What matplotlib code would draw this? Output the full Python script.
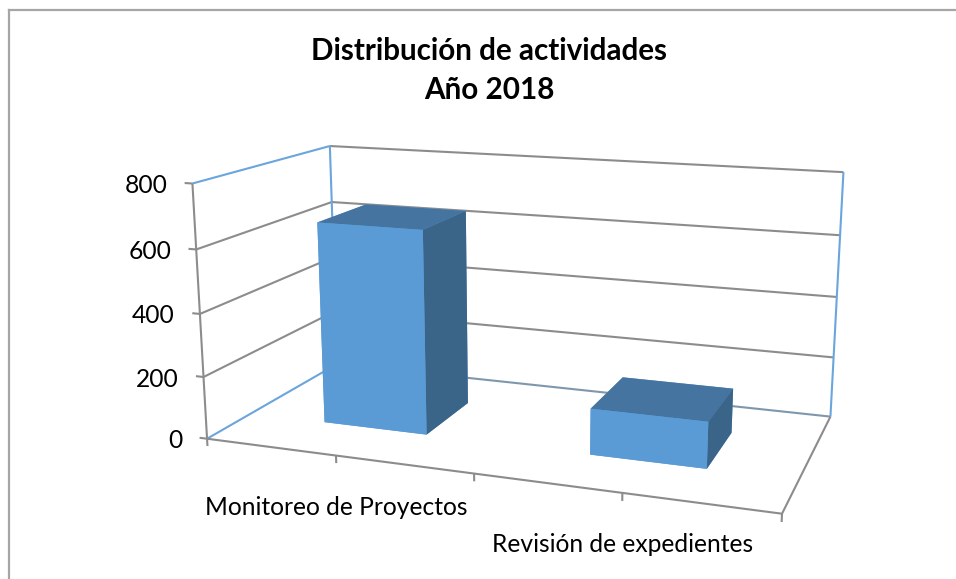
import numpy as np
import matplotlib
matplotlib.use("Agg")
import matplotlib.pyplot as plt
from matplotlib.lines import Line2D
from mpl_toolkits.mplot3d import proj3d

categories = ["Monitoreo de Proyectos", "Revisión de expedientes"]
values = [652, 145]
yticks = [0, 200, 400, 600, 800]

W, H = 956, 579
GRAY = "#8c8c8c"
BLUE = "#6aa5dc"
FRONT, TOP, SIDE = "#5b9bd5", "#4674a0", "#3a6488"

plt.rcParams["font.family"] = ["Lato", "DejaVu Sans"]

fig = plt.figure(figsize=(W / 100, H / 100), dpi=100)

# outer chart frame, cropped at the right and bottom
fig.add_artist(Line2D([9 / W, 9 / W], [0, 1 - 10 / H], color="#a6a6a6", lw=1.6))
fig.add_artist(Line2D([9 / W, 1], [1 - 10 / H, 1 - 10 / H], color="#a6a6a6", lw=1.6))

# camera found by fitting against the box corners of the picture
S = 669.82
ax = fig.add_axes([181.71 / W, -70.22 / H, S / W, S / H], projection="3d")
ax.computed_zorder = False
ax.patch.set_visible(False)
ax.set_axis_off()
ax.set_box_aspect((2, 0.9805, 0.8951))
ax.view_init(14.02, -70.0, 0.04)
ax.set_proj_type("persp", focal_length=0.3976)

xmax = len(categories)
top = yticks[-1]


def line3d(xs, ys, zs, color=GRAY):
    ax.plot(xs, ys, zs, color=color, lw=1.5, zorder=1, solid_capstyle="butt")


# walls
for v in yticks[1:-1]:
    line3d([0, 0, xmax], [0, 1, 1], [v, v, v])
line3d([0, xmax], [1, 1], [0, 0], "#7f97ad")
line3d([0, xmax], [1, 1], [top, top])
line3d([0, 0], [0, 1], [top, top], BLUE)
line3d([0, 0], [0, 1], [0, 0], BLUE)
line3d([0, 0], [1, 1], [0, top], BLUE)
line3d([xmax, xmax], [1, 1], [0, top], BLUE)
line3d([0, 0], [0, 0], [0, top])
line3d([0, xmax, xmax], [0, 0, 1], [0, 0, 0])

# ticks
for v in yticks:
    line3d([-0.03, 0], [0, 0], [v, v])
for x in np.arange(0, xmax + 0.25, 0.5):
    line3d([x, x], [0, 0], [-24, 0])

# bars
bar_w, bar_d = 0.4, 0.39
centers = np.arange(len(categories)) + 0.5
face_colors = [FRONT, TOP, FRONT, FRONT, FRONT, SIDE] * len(categories)
ax.bar3d(centers - bar_w / 2, np.full(len(categories), 0.5 - bar_d / 2), np.zeros(len(categories)),
         bar_w, bar_d, values, color=face_colors, shade=False, zorder=2, edgecolor="none")

ax.set_xlim(0, xmax, view_margin=0)
ax.set_ylim(0, 1, view_margin=0)
ax.set_zlim(0, top, view_margin=0)

M = ax.get_proj()


def label(x, y, z, text, dx, dy, ha):
    px, py, _ = proj3d.proj_transform(x, y, z, M)
    ax.annotate(text, (px, py), xytext=(dx, dy), textcoords="offset pixels", ha=ha, va="center",
                fontsize=17.7, color="black", annotation_clip=False)


for v in yticks:
    label(0, 0, v, str(v), -25, -2, "right")
for c, name in zip(centers, categories):
    label(c, 0, 0, name, 0, -52, "center")

fig.text(489 / W, 1 - 51 / H, "Distribución de actividades", ha="center", va="center",
         fontsize=21.3, fontweight="bold", color="black")
fig.text(489 / W, 1 - 90 / H, "Año 2018", ha="center", va="center",
         fontsize=21.3, fontweight="bold", color="black")

fig.savefig("out.png", dpi=100)
